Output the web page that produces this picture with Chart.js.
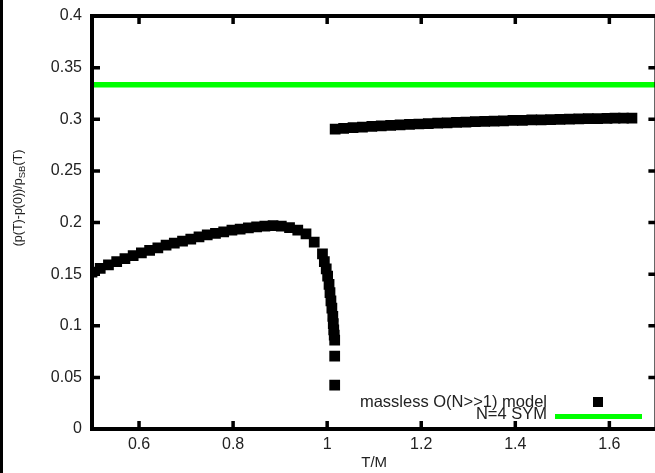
<!DOCTYPE html>
<html>
<head>
<meta charset="utf-8">
<script src="https://cdn.jsdelivr.net/npm/chart.js@4"></script>
<style>
  html, body { margin: 0; padding: 0; background: #fff; overflow: hidden; }
  #wrap { position: relative; width: 655px; height: 473px; overflow: hidden; }
  #strip { position: absolute; left: 0; top: 0; width: 3px; height: 473px; background: #000; }
  canvas { position: absolute; left: 0; top: 0; }
</style>
</head>
<body>
<div id="wrap">
  <canvas id="my-chart" width="664" height="473"></canvas>
  <div id="strip"></div>
</div>
<script>
// O(N>>1) model: low-T branch, steep drop near T/M ~ 1, high-T branch
const modelT = [
  0.500, 0.5175, 0.535, 0.5525, 0.570, 0.5875, 0.605, 0.6225, 0.640, 0.6575,
  0.675, 0.6925, 0.710, 0.7275, 0.745, 0.7625, 0.780, 0.7975, 0.815, 0.8325,
  0.850, 0.8675, 0.885, 0.9025, 0.920, 0.9375, 0.955, 0.9725,
  0.990, 0.994, 0.998, 1.001, 1.004, 1.006, 1.008, 1.010, 1.012, 1.013,
  1.014, 1.015, 1.016, 1.016, 1.016,
  1.017, 1.035, 1.055, 1.075, 1.095, 1.115, 1.135, 1.155, 1.175, 1.195,
  1.215, 1.235, 1.255, 1.275, 1.295, 1.315, 1.335, 1.355, 1.375, 1.395,
  1.415, 1.435, 1.455, 1.475, 1.495, 1.515, 1.535, 1.555, 1.575, 1.595,
  1.612, 1.630, 1.648
];
const modelP = [
  0.152, 0.1555, 0.159, 0.162, 0.165, 0.168, 0.1705, 0.173, 0.1755, 0.178,
  0.180, 0.182, 0.184, 0.186, 0.188, 0.1895, 0.191, 0.1925, 0.1935, 0.1948,
  0.1958, 0.1965, 0.197, 0.1965, 0.195, 0.1925, 0.189, 0.181,
  0.1695, 0.162, 0.155, 0.148, 0.140, 0.132, 0.124, 0.117, 0.109, 0.102,
  0.096, 0.091, 0.086, 0.0705, 0.0425,
  0.2905, 0.2912, 0.2918, 0.2924, 0.2930, 0.2935, 0.2940, 0.2945, 0.2950, 0.2954,
  0.2958, 0.2962, 0.2966, 0.2970, 0.2973, 0.2976, 0.2979, 0.2982, 0.2985, 0.2988,
  0.2990, 0.2993, 0.2995, 0.2997, 0.2999, 0.3001, 0.3003, 0.3005, 0.3007, 0.3008,
  0.3010, 0.3011, 0.3012
];
// N=4 SYM constant
const symT = [0.5, 1.7];
const symP = [0.3333, 0.3333];

const xTicks = [0.6, 0.8, 1.0, 1.2, 1.4, 1.6];
const xTickLabels = ['0.6', '0.8', '1', '1.2', '1.4', '1.6'];
const yTicks = [0, 0.05, 0.1, 0.15, 0.2, 0.25, 0.3, 0.35, 0.4];
const yTickLabels = ['0', '0.05', '0.1', '0.15', '0.2', '0.25', '0.3', '0.35', '0.4'];

const legendLabels = ['massless O(N>>1) model', 'N=4 SYM'];

const FONT = 'Liberation Sans, Arial, sans-serif';

const framePlugin = {
  id: 'frame',
  afterDatasetsDraw(chart) {
    const { ctx, chartArea: a, scales: { x, y } } = chart;
    ctx.save();
    ctx.strokeStyle = '#000';
    ctx.lineWidth = 3.5;
    ctx.beginPath();
    xTicks.forEach((v) => {
      const px = x.getPixelForValue(v);
      ctx.moveTo(px, a.bottom);
      ctx.lineTo(px, a.bottom - 8);
      ctx.moveTo(px, a.top);
      ctx.lineTo(px, a.top + 8);
    });
    yTicks.forEach((v) => {
      const py = y.getPixelForValue(v);
      ctx.moveTo(a.left, py);
      ctx.lineTo(a.left + 8, py);
      ctx.moveTo(a.right, py);
      ctx.lineTo(a.right - 8, py);
    });
    ctx.stroke();
    ctx.lineWidth = 4;
    ctx.strokeRect(a.left, a.top, a.right - a.left, a.bottom - a.top);

    // key, bottom right
    ctx.fillStyle = '#222';
    ctx.font = '16.5px ' + FONT;
    ctx.textAlign = 'right';
    ctx.textBaseline = 'middle';
    ctx.fillText(legendLabels[0], 547, 402);
    ctx.fillText(legendLabels[1], 547, 414);
    ctx.fillStyle = '#000';
    ctx.fillRect(593, 397, 10, 10);
    ctx.fillStyle = '#00ff00';
    ctx.fillRect(555, 414, 87, 5);

    // y title with subscript
    ctx.translate(22, 198);
    ctx.rotate(-Math.PI / 2);
    ctx.fillStyle = '#222';
    ctx.textAlign = 'left';
    ctx.textBaseline = 'alphabetic';
    const f1 = '12.5px ' + FONT;
    const f2 = '9.5px ' + FONT;
    ctx.font = f1;
    const p1 = '(p(T)-p(0))/p';
    const p3 = '(T)';
    const w1 = ctx.measureText(p1).width;
    const w3 = ctx.measureText(p3).width;
    ctx.font = f2;
    const w2 = ctx.measureText('SB').width;
    let sx = -(w1 + w2 + w3) / 2;
    ctx.font = f1;
    ctx.fillText(p1, sx, 0);
    sx += w1;
    ctx.font = f2;
    ctx.fillText('SB', sx, 3);
    sx += w2;
    ctx.font = f1;
    ctx.fillText(p3, sx, 0);
    ctx.restore();
  },
};

const chart = new Chart(document.getElementById('my-chart').getContext('2d'), {
  type: 'scatter',
  data: {
    datasets: [
      {
        label: legendLabels[1],
        type: 'line',
        data: symT.map((t, i) => ({ x: t, y: symP[i] })),
        borderColor: '#00ff00',
        borderWidth: 5.5,
        pointRadius: 0,
        showLine: true,
        order: 2,
      },
      {
        label: legendLabels[0],
        data: modelT.map((t, i) => ({ x: t, y: modelP[i] })),
        pointStyle: 'rect',
        pointRadius: 7.6,
        pointBorderWidth: 0,
        backgroundColor: '#000',
        borderColor: '#000',
        showLine: false,
        order: 1,
      },
    ],
  },
  options: {
    responsive: false,
    animation: false,
    layout: { padding: { left: 0, right: 6, top: 16, bottom: 0 } },
    plugins: {
      legend: { display: false },
      tooltip: { enabled: false },
    },
    scales: {
      x: {
        type: 'linear',
        min: 0.5,
        max: 1.7,
        afterFit: (s) => {
          s.height = 44;
          s.paddingLeft = 0;
          s.paddingRight = 0;
        },
        afterBuildTicks: (s) => { s.ticks = xTicks.map((v) => ({ value: v })); },
        grid: { display: false, drawTicks: false },
        border: { display: false },
        ticks: {
          padding: 6,
          color: '#222',
          font: { family: FONT, size: 16 },
          callback: (v) => xTickLabels[xTicks.findIndex((t) => Math.abs(t - v) < 1e-9)],
        },
        title: {
          display: true,
          text: 'T/M',
          color: '#222',
          font: { family: FONT, size: 15 },
          padding: { bottom: 1 },
        },
      },
      y: {
        min: 0,
        max: 0.4,
        afterFit: (s) => {
          s.width = 92;
          s.paddingTop = 0;
          s.paddingBottom = 0;
        },
        afterBuildTicks: (s) => { s.ticks = yTicks.map((v) => ({ value: v })); },
        grid: { display: false, drawTicks: false },
        border: { display: false },
        ticks: {
          padding: 10,
          color: '#222',
          font: { family: FONT, size: 16 },
          callback: (v) => yTickLabels[yTicks.findIndex((t) => Math.abs(t - v) < 1e-9)],
        },
      },
    },
  },
  plugins: [framePlugin],
});
</script>
</body>
</html>
